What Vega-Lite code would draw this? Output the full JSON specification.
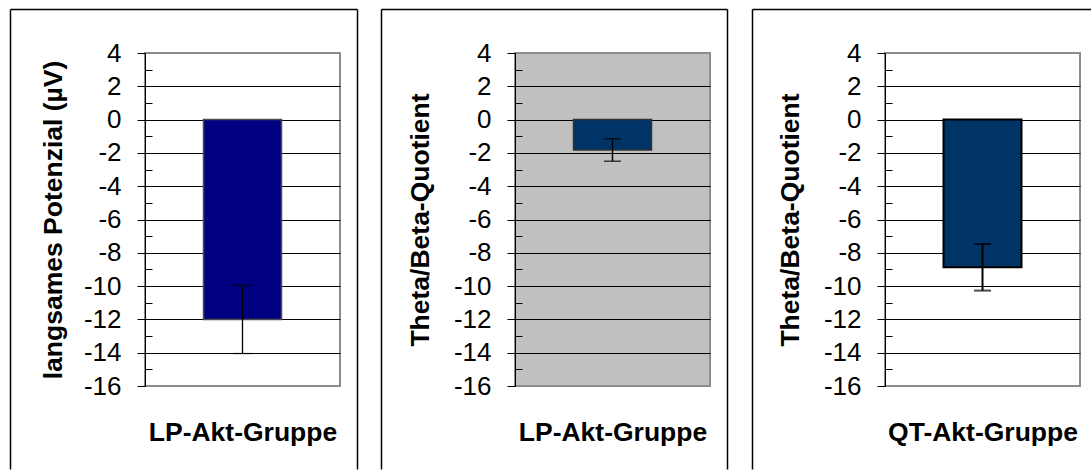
{
  "$schema": "https://vega.github.io/schema/vega-lite/v6.json",
  "background": "white",
  "padding": {"left": 9, "top": 8, "right": 0, "bottom": 0},
  "data": {"values": [
    {"panel": "A", "measure": "langsames Potenzial (µV)", "group": "LP-Akt-Gruppe", "value": -12.0, "lo": -14.05, "hi": -9.95},
    {"panel": "B", "measure": "Theta/Beta-Quotient", "group": "LP-Akt-Gruppe", "value": -1.83, "lo": -2.5, "hi": -1.15},
    {"panel": "C", "measure": "Theta/Beta-Quotient", "group": "QT-Akt-Gruppe", "value": -8.87, "lo": -10.27, "hi": -7.47}
  ]},
  "spacing": 175,
  "bounds": "flush",
  "hconcat": [
    {
      "transform": [{"filter": "datum.panel === 'A'"}],
      "width": 195, "height": 333,
      "view": {"fill": "white", "stroke": "#8c8c8c", "strokeWidth": 2},
      "layer": [
        {
          "layer": [
            {"mark": {"type": "bar", "fill": "#000080", "stroke": "#4d4d4d", "strokeWidth": 1.5, "width": {"band": 0.4}},
             "encoding": {
               "x": {"field": "group", "type": "nominal", "scale": {"paddingInner": 0, "paddingOuter": 0}, "axis": null},
               "y": {"field": "value", "type": "quantitative", "scale": {"domain": [-16, 4], "nice": false},
                     "axis": {"orient": "left", "title": "langsames Potenzial (µV)", "values": [-16, -14, -12, -10, -8, -6, -4, -2, 0, 2, 4], "labelExpr": "'' + datum.value", "domainColor": "black", "domainWidth": 1, "tickColor": "black", "tickSize": 8, "tickWidth": 1, "labelFont": "Liberation Sans", "labelFontSize": 26, "labelColor": "black", "labelPadding": 16, "labelFlush": false, "labelOverlap": false, "titleFont": "Liberation Sans", "titleFontSize": 26.5, "titleFontWeight": "bold", "titleColor": "black", "titlePadding": 15.5, "grid": true, "gridColor": {"condition": {"test": "datum.value === 4 || datum.value === -16", "value": "transparent"}, "value": "black"}, "gridWidth": 1}}
             }},
            {"mark": {"type": "rule", "color": "black", "strokeWidth": 1.3},
             "encoding": {
               "x": {"field": "group", "type": "nominal", "axis": null},
               "y": {"field": "lo", "type": "quantitative", "scale": {"domain": [-16, 4], "nice": false},
                     "axis": {"orient": "left", "title": null, "values": [-15, -13, -11, -9, -7, -5, -3, -1, 1, 3], "tickSize": -7, "tickColor": "black", "tickWidth": 1, "labels": false, "domain": false, "grid": false}},
               "y2": {"field": "hi"}
             }},
            {"mark": {"type": "tick", "color": "black", "thickness": 1.3, "size": 19, "orient": "horizontal"},
             "encoding": {
               "x": {"field": "group", "type": "nominal", "axis": null},
               "y": {"field": "lo", "type": "quantitative", "scale": {"domain": [-16, 4], "nice": false}, "axis": null}
             }},
            {"mark": {"type": "tick", "color": "black", "thickness": 1.3, "size": 19, "orient": "horizontal"},
             "encoding": {
               "x": {"field": "group", "type": "nominal", "axis": null},
               "y": {"field": "hi", "type": "quantitative", "scale": {"domain": [-16, 4], "nice": false}, "axis": null}
             }}
          ],
          "resolve": {"axis": {"y": "independent"}}
        },
        {"mark": {"type": "point", "opacity": 0},
         "encoding": {
           "x": {"datum": 0.5, "type": "quantitative", "scale": {"domain": [0, 1], "range": [0, 347]},
                 "axis": {"orient": "top", "offset": 44, "position": -135, "title": null, "labels": false, "ticks": false, "grid": false, "domainColor": "black", "domainWidth": 1.5}},
           "y": {"datum": 0.5, "type": "quantitative", "scale": {"domain": [0, 1], "range": [460, 0]},
                 "axis": {"orient": "left", "offset": 135, "position": -44, "title": null, "labels": false, "ticks": false, "grid": false, "domainColor": "black", "domainWidth": 1.5}}
         }},
        {"mark": {"type": "point", "opacity": 0},
         "encoding": {
           "x": {"datum": 0.5, "type": "quantitative", "scale": {"domain": [0, 1], "range": [0, 195]},
                 "axis": {"orient": "bottom", "title": "LP-Akt-Gruppe", "titleFont": "Liberation Sans", "titleFontSize": 26.5, "titleFontWeight": "bold", "titleColor": "black", "titlePadding": 33, "labels": false, "ticks": false, "domain": false, "grid": false}},
           "y": {"datum": 0.5, "type": "quantitative", "scale": {"domain": [0, 1], "range": [460, 0]},
                 "axis": {"orient": "right", "offset": 17, "position": -44, "title": null, "labels": false, "ticks": false, "grid": false, "domainColor": "black", "domainWidth": 1.5}}
         }}
      ],
      "resolve": {"scale": {"x": "independent", "y": "independent"}}
    },
    {
      "transform": [{"filter": "datum.panel === 'B'"}],
      "width": 195, "height": 333,
      "view": {"fill": "#c0c0c0", "stroke": "#8c8c8c", "strokeWidth": 2},
      "layer": [
        {
          "layer": [
            {"mark": {"type": "bar", "fill": "#003366", "stroke": "#333333", "strokeWidth": 1.5, "width": {"band": 0.4}},
             "encoding": {
               "x": {"field": "group", "type": "nominal", "scale": {"paddingInner": 0, "paddingOuter": 0}, "axis": null},
               "y": {"field": "value", "type": "quantitative", "scale": {"domain": [-16, 4], "nice": false},
                     "axis": {"orient": "left", "title": "Theta/Beta-Quotient", "values": [-16, -14, -12, -10, -8, -6, -4, -2, 0, 2, 4], "labelExpr": "'' + datum.value", "domainColor": "black", "domainWidth": 1, "tickColor": "black", "tickSize": 8, "tickWidth": 1, "labelFont": "Liberation Sans", "labelFontSize": 26, "labelColor": "black", "labelPadding": 16, "labelFlush": false, "labelOverlap": false, "titleFont": "Liberation Sans", "titleFontSize": 26.5, "titleFontWeight": "bold", "titleColor": "black", "titlePadding": 19, "grid": true, "gridColor": {"condition": {"test": "datum.value === 4 || datum.value === -16", "value": "transparent"}, "value": "black"}, "gridWidth": 1}}
             }},
            {"mark": {"type": "rule", "color": "black", "strokeWidth": 1.5},
             "encoding": {
               "x": {"field": "group", "type": "nominal", "axis": null},
               "y": {"field": "lo", "type": "quantitative", "scale": {"domain": [-16, 4], "nice": false},
                     "axis": {"orient": "left", "title": null, "values": [-15, -13, -11, -9, -7, -5, -3, -1, 1, 3], "tickSize": -7, "tickColor": "black", "tickWidth": 1, "labels": false, "domain": false, "grid": false}},
               "y2": {"field": "hi"}
             }},
            {"mark": {"type": "tick", "color": "black", "thickness": 1.5, "size": 17, "orient": "horizontal"},
             "encoding": {
               "x": {"field": "group", "type": "nominal", "axis": null},
               "y": {"field": "lo", "type": "quantitative", "scale": {"domain": [-16, 4], "nice": false}, "axis": null}
             }},
            {"mark": {"type": "tick", "color": "black", "thickness": 1.5, "size": 17, "orient": "horizontal"},
             "encoding": {
               "x": {"field": "group", "type": "nominal", "axis": null},
               "y": {"field": "hi", "type": "quantitative", "scale": {"domain": [-16, 4], "nice": false}, "axis": null}
             }}
          ],
          "resolve": {"axis": {"y": "independent"}}
        },
        {"mark": {"type": "point", "opacity": 0},
         "encoding": {
           "x": {"datum": 0.5, "type": "quantitative", "scale": {"domain": [0, 1], "range": [0, 346]},
                 "axis": {"orient": "top", "offset": 44, "position": -134, "title": null, "labels": false, "ticks": false, "grid": false, "domainColor": "black", "domainWidth": 1.5}},
           "y": {"datum": 0.5, "type": "quantitative", "scale": {"domain": [0, 1], "range": [460, 0]},
                 "axis": {"orient": "left", "offset": 134, "position": -44, "title": null, "labels": false, "ticks": false, "grid": false, "domainColor": "black", "domainWidth": 1.5}}
         }},
        {"mark": {"type": "point", "opacity": 0},
         "encoding": {
           "x": {"datum": 0.5, "type": "quantitative", "scale": {"domain": [0, 1], "range": [0, 195]},
                 "axis": {"orient": "bottom", "title": "LP-Akt-Gruppe", "titleFont": "Liberation Sans", "titleFontSize": 26.5, "titleFontWeight": "bold", "titleColor": "black", "titlePadding": 33, "labels": false, "ticks": false, "domain": false, "grid": false}},
           "y": {"datum": 0.5, "type": "quantitative", "scale": {"domain": [0, 1], "range": [460, 0]},
                 "axis": {"orient": "right", "offset": 17, "position": -44, "title": null, "labels": false, "ticks": false, "grid": false, "domainColor": "black", "domainWidth": 1.5}}
         }}
      ],
      "resolve": {"scale": {"x": "independent", "y": "independent"}}
    },
    {
      "transform": [{"filter": "datum.panel === 'C'"}],
      "width": 195, "height": 333,
      "view": {"fill": "white", "stroke": "#8c8c8c", "strokeWidth": 2},
      "layer": [
        {
          "layer": [
            {"mark": {"type": "bar", "fill": "#003366", "stroke": "#000000", "strokeWidth": 2, "width": {"band": 0.4}},
             "encoding": {
               "x": {"field": "group", "type": "nominal", "scale": {"paddingInner": 0, "paddingOuter": 0}, "axis": null},
               "y": {"field": "value", "type": "quantitative", "scale": {"domain": [-16, 4], "nice": false},
                     "axis": {"orient": "left", "title": "Theta/Beta-Quotient", "values": [-16, -14, -12, -10, -8, -6, -4, -2, 0, 2, 4], "labelExpr": "'' + datum.value", "domainColor": "black", "domainWidth": 1, "tickColor": "black", "tickSize": 8, "tickWidth": 1, "labelFont": "Liberation Sans", "labelFontSize": 26, "labelColor": "black", "labelPadding": 16, "labelFlush": false, "labelOverlap": false, "titleFont": "Liberation Sans", "titleFontSize": 26.5, "titleFontWeight": "bold", "titleColor": "black", "titlePadding": 19, "grid": true, "gridColor": {"condition": {"test": "datum.value === 4 || datum.value === -16", "value": "transparent"}, "value": "black"}, "gridWidth": 1}}
             }},
            {"mark": {"type": "rule", "color": "black", "strokeWidth": 2},
             "encoding": {
               "x": {"field": "group", "type": "nominal", "axis": null},
               "y": {"field": "lo", "type": "quantitative", "scale": {"domain": [-16, 4], "nice": false},
                     "axis": {"orient": "left", "title": null, "values": [-15, -13, -11, -9, -7, -5, -3, -1, 1, 3], "tickSize": -7, "tickColor": "black", "tickWidth": 1, "labels": false, "domain": false, "grid": false}},
               "y2": {"field": "hi"}
             }},
            {"mark": {"type": "tick", "color": "black", "thickness": 2, "size": 17, "orient": "horizontal"},
             "encoding": {
               "x": {"field": "group", "type": "nominal", "axis": null},
               "y": {"field": "lo", "type": "quantitative", "scale": {"domain": [-16, 4], "nice": false}, "axis": null}
             }},
            {"mark": {"type": "tick", "color": "black", "thickness": 2, "size": 17, "orient": "horizontal"},
             "encoding": {
               "x": {"field": "group", "type": "nominal", "axis": null},
               "y": {"field": "hi", "type": "quantitative", "scale": {"domain": [-16, 4], "nice": false}, "axis": null}
             }}
          ],
          "resolve": {"axis": {"y": "independent"}}
        },
        {"mark": {"type": "point", "opacity": 0},
         "encoding": {
           "x": {"datum": 0.5, "type": "quantitative", "scale": {"domain": [0, 1], "range": [0, 339]},
                 "axis": {"orient": "top", "offset": 44, "position": -133, "title": null, "labels": false, "ticks": false, "grid": false, "domainColor": "black", "domainWidth": 1.5}},
           "y": {"datum": 0.5, "type": "quantitative", "scale": {"domain": [0, 1], "range": [460, 0]},
                 "axis": {"orient": "left", "offset": 133, "position": -44, "title": null, "labels": false, "ticks": false, "grid": false, "domainColor": "black", "domainWidth": 1.5}}
         }},
        {"mark": {"type": "point", "opacity": 0},
         "encoding": {
           "x": {"datum": 0.5, "type": "quantitative", "scale": {"domain": [0, 1], "range": [0, 195]},
                 "axis": {"orient": "bottom", "title": "QT-Akt-Gruppe", "titleFont": "Liberation Sans", "titleFontSize": 26.5, "titleFontWeight": "bold", "titleColor": "black", "titlePadding": 33, "labels": false, "ticks": false, "domain": false, "grid": false}}
         }}
      ],
      "resolve": {"scale": {"x": "independent", "y": "independent"}}
    }
  ]
}
